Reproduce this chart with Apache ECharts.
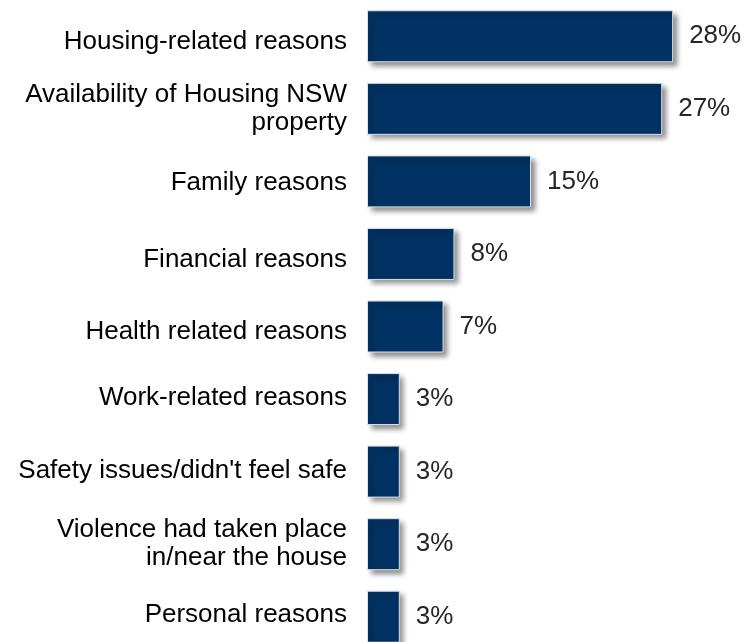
<!DOCTYPE html>
<html>
<head>
<meta charset="utf-8">
<script src="https://cdn.jsdelivr.net/npm/echarts@6/dist/echarts.min.js"></script>
<style>
  html, body { margin: 0; padding: 0; background: #ffffff; overflow: hidden; }
  /* the last row runs past the bottom edge of the window */
  #chart { width: 748px; height: 660px; }
</style>
</head>
<body>
<div id="chart"></div>
<script>
// Reasons for moving, percentage of respondents
const categories = [
  'Housing-related reasons',
  'Availability of Housing NSW\nproperty',
  'Family reasons',
  'Financial reasons',
  'Health related reasons',
  'Work-related reasons',
  "Safety issues/didn't feel safe",
  'Violence had taken place\nin/near the house',
  'Personal reasons'
];
const shares = [28, 27, 15, 8, 7, 3, 3, 3, 3];

// small vertical nudge (px, positive = down) for some category labels
const labelNudge = [6, 0, 1, 6, 5, -1, -1, 0, -2];

const fontFamily = '"Liberation Sans", Arial, Helvetica, sans-serif';
const labelFont = { fontSize: 26, lineHeight: 28, color: '#000000', fontFamily: fontFamily };

// one rich style per nudged label: top/bottom padding moves the glyphs by half its size
const richStyles = {};
labelNudge.forEach((n, i) => {
  if (n !== 0) {
    richStyles['n' + i] = Object.assign({}, labelFont, {
      padding: n > 0 ? [2 * n, 0, 0, 0] : [0, 0, -2 * n, 0]
    });
  }
});

const chart = echarts.init(document.getElementById('chart'), null, { renderer: 'canvas' });

chart.setOption({
  backgroundColor: '#ffffff',
  animation: false,
  grid: { left: 367, top: 0, width: 328, height: 653, containLabel: false },
  xAxis: {
    type: 'value',
    min: 0,
    max: 30,
    show: false
  },
  yAxis: {
    type: 'category',
    data: categories,
    inverse: true,
    axisLine: { show: false },
    axisTick: { show: false },
    splitLine: { show: false },
    axisLabel: Object.assign({}, labelFont, {
      margin: 20,
      align: 'right',
      formatter: (value, index) => labelNudge[index] ? '{n' + index + '|' + value + '}' : value,
      rich: richStyles
    })
  },
  series: [{
    type: 'bar',
    data: shares,
    barWidth: 52,
    itemStyle: {
      color: '#003263',
      borderColor: '#d9e1ea',
      borderWidth: 1,
      shadowColor: 'rgba(0,0,0,0.45)',
      shadowBlur: 5,
      shadowOffsetX: 4,
      shadowOffsetY: 4
    },
    label: {
      show: true,
      position: 'right',
      distance: 16,
      formatter: '{c}%',
      fontSize: 26,
      color: '#262626',
      fontFamily: fontFamily
    }
  }]
});
</script>
</body>
</html>
